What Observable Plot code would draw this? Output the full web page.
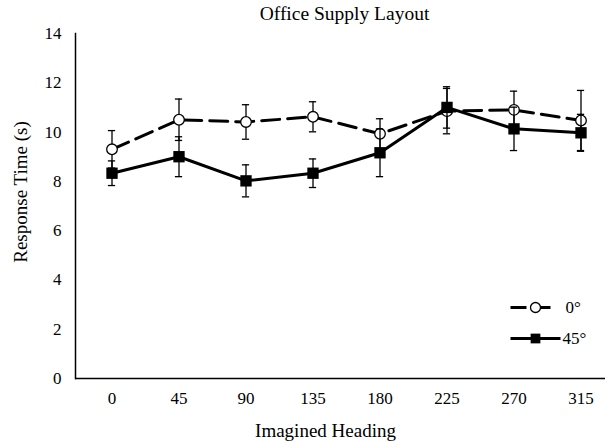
<!DOCTYPE html>
<html><head><meta charset="utf-8">
<script src="https://cdn.jsdelivr.net/npm/d3@7"></script>
<script src="https://cdn.jsdelivr.net/npm/@observablehq/plot@0.6"></script>
<style>
body{margin:0;background:#fff;}
#chart{position:relative;width:605px;height:441px;}
#chart svg, #chart svg text{font-family:"Liberation Serif","Times New Roman",serif;}
#legend{position:absolute;left:500px;top:290px;}
</style></head><body><div id="chart"></div>
<script>
const headings = ["0","45","90","135","180","225","270","315"];
const series = ["0°","45°"];
const mean0 = [9.30, 10.50, 10.41, 10.62, 9.93, 10.85, 10.90, 10.47];
const err0  = [0.76, 0.84, 0.70, 0.61, 0.61, 0.92, 0.76, 1.22];
const mean45 = [8.33, 9.00, 8.02, 8.33, 9.16, 11.00, 10.13, 9.97];
const err45  = [0.50, 0.81, 0.65, 0.58, 0.97, 0.84, 0.88, 0.75];
const yTicks = [0,2,4,6,8,10,12,14];
const title = "Office Supply Layout";
const xLabel = "Imagined Heading";
const yLabel = "Response Time (s)";

const rows = series.flatMap((s, si) => headings.map((h, i) => {
  const m = si ? mean45[i] : mean0[i], e = si ? err45[i] : err0[i];
  return {series: s, heading: h, mean: m, lo: m - e, hi: m + e};
}));
const r0 = rows.filter(d => d.series === series[0]);
const r45 = rows.filter(d => d.series === series[1]);

const bw = (617 - 75) / headings.length;
const inset = bw / 2 - 4;
const font = '"Liberation Serif","Times New Roman",serif';

function errorMarks(data) {
  return [
    Plot.ruleX(data, {x: "heading", y1: "lo", y2: "hi", stroke: "black", strokeWidth: 1.3}),
    Plot.tickY(data, {x: "heading", y: "lo", insetLeft: inset, insetRight: inset, stroke: "black", strokeWidth: 1.3}),
    Plot.tickY(data, {x: "heading", y: "hi", insetLeft: inset, insetRight: inset, stroke: "black", strokeWidth: 1.3})
  ];
}

const chart = Plot.plot({
  width: 605, height: 441,
  marginTop: 33, marginBottom: 63, marginLeft: 75, marginRight: 0,
  style: {fontFamily: font, fontSize: "17px", background: "white", color: "black"},
  x: {type: "band", domain: headings, range: [75, 617], padding: 0},
  y: {domain: [0, 14], range: [378, 33]},
  marks: [
    Plot.axisY({ticks: yTicks, tickSize: 0, tickPadding: 14, label: null, fontSize: 17, fontFamily: font, fontVariant: "normal"}),
    Plot.axisX({tickSize: 0, tickPadding: 13, label: null, fontSize: 17, fontFamily: font, fontVariant: "normal"}),
    Plot.frame({anchor: "left", stroke: "black", strokeWidth: 1.5}),
    Plot.ruleY([0], {stroke: "black", strokeWidth: 1.5}),
    ...errorMarks(r0),
    Plot.line(r0, {x: "heading", y: "mean", stroke: "black", strokeWidth: 3, strokeDasharray: "18,8"}),
    Plot.dot(r0, {x: "heading", y: "mean", r: 5.3, fill: "white", stroke: "black", strokeWidth: 1.3}),
    ...errorMarks(r45),
    Plot.line(r45, {x: "heading", y: "mean", stroke: "black", strokeWidth: 3}),
    Plot.dot(r45, {x: "heading", y: "mean", symbol: "square", r: 6.4, fill: "black", stroke: "none"}),
    Plot.text([title], {frameAnchor: "top", textAnchor: "middle", lineAnchor: "middle", dx: 4, dy: -20, fontSize: 19.5, fontFamily: font, fill: "black"}),
    Plot.text([xLabel], {frameAnchor: "bottom", textAnchor: "middle", lineAnchor: "middle", dx: -15, dy: 52, fontSize: 19, fontFamily: font, fill: "black"}),
    Plot.text([yLabel], {frameAnchor: "left", textAnchor: "middle", lineAnchor: "middle", dx: -55, dy: -14, rotate: -90, fontSize: 19, fontFamily: font, fill: "black"})
  ]
});
document.getElementById("chart").append(chart);

const legendRows = series.map(s => ({series: s}));
const legend = Plot.plot({
  width: 105, height: 60, margin: 0,
  style: {fontFamily: font, fontSize: "17px", background: "transparent", color: "black"},
  x: {type: "linear", domain: [0, 105], range: [0, 105], axis: null},
  y: {type: "point", domain: series, range: [17, 48], padding: 0, axis: null},
  marks: [
    Plot.link([legendRows[0]], {x1: 10, x2: 50, y1: "series", y2: "series", stroke: "black", strokeWidth: 3, strokeDasharray: "16,8"}),
    Plot.link([legendRows[1]], {x1: 10, x2: 60, y1: "series", y2: "series", stroke: "black", strokeWidth: 3}),
    Plot.dot([legendRows[0]], {x: 35, y: "series", r: 5, fill: "white", stroke: "black", strokeWidth: 1.3}),
    Plot.dot([legendRows[1]], {x: 35, y: "series", symbol: "square", r: 5.5, fill: "black"}),
    Plot.text(legendRows, {x: (d, i) => i ? 62 : 65, y: "series", text: "series", textAnchor: "start", fontSize: 17, fontFamily: font, fill: "black"})
  ]
});
legend.id = "legend";
document.getElementById("chart").append(legend);
</script>
</body></html>
